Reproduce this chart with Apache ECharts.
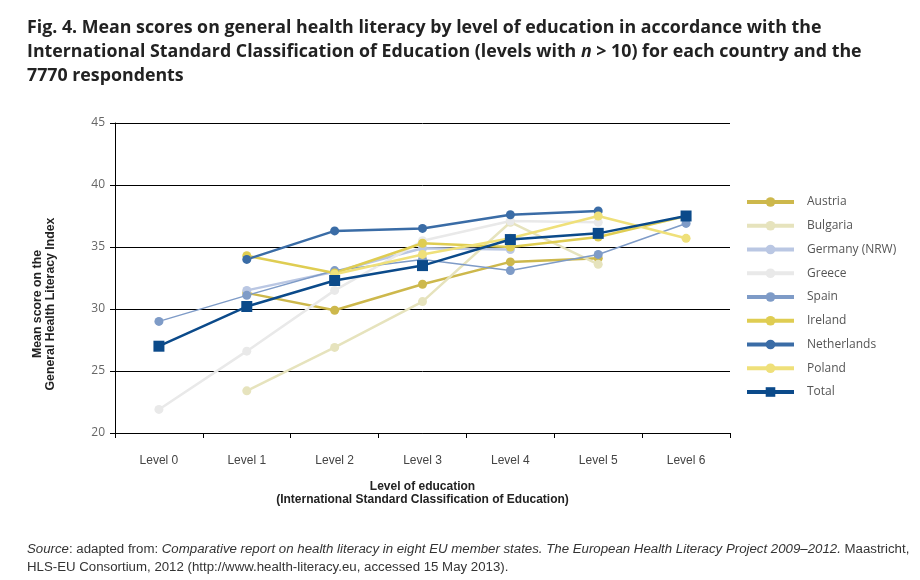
<!DOCTYPE html>
<html>
<head>
<meta charset="utf-8">
<script src="https://cdn.jsdelivr.net/npm/echarts@6/dist/echarts.min.js"></script>
<style>
  html, body { margin: 0; padding: 0; background: #fff; }
  #chart { width: 920px; height: 580px; }
</style>
</head>
<body>
<div id="chart"></div>
<script>
// values (null = level with n <= 10)
const levels = ['Level 0', 'Level 1', 'Level 2', 'Level 3', 'Level 4', 'Level 5', 'Level 6'];
const austria     = [null, 31.3, 29.9, 32.0, 33.8, 34.1, null];
const bulgaria    = [null, 23.4, 26.9, 30.6, 37.0, 33.6, null];
const germany     = [null, 31.5, 33.0, 34.9, 34.8, null, null];
const greece      = [21.9, 26.6, 31.5, 35.5, 37.1, 37.0, null];
const spain       = [29.0, 31.1, 33.1, 34.0, 33.1, 34.4, 36.9];
const ireland     = [null, 34.3, 32.9, 35.3, 35.0, 35.8, 37.5];
const netherlands = [null, 34.0, 36.3, 36.5, 37.6, 37.9, null];
const poland      = [null, null, 32.8, 34.4, 35.7, 37.5, 35.7];
const total       = [27.0, 30.2, 32.3, 33.5, 35.6, 36.1, 37.5];

const narrow = "'Liberation Sans', Arial, sans-serif";
const mainFont = "'Open Sans', 'Noto Sans', sans-serif";

function line(name, data, color, width, symbol, size) {
  return {
    name: name,
    type: 'line',
    data: data,
    symbol: symbol || 'circle',
    symbolSize: size || 9,
    showSymbol: true,
    lineStyle: { color: color, width: width },
    itemStyle: { color: color },
    emphasis: { disabled: true }
  };
}

const chart = echarts.init(document.getElementById('chart'));
chart.setOption({
  animation: false,
  title: [
    {
      left: 22, top: 11,
      text: 'Fig. 4. Mean scores on general health literacy by level of education in accordance with the\n' +
            'International Standard Classification of Education (levels with {i|n} > 10) for each country and the\n' +
            '7770 respondents',
      textStyle: {
        fontFamily: mainFont, fontSize: 17.8, fontWeight: 'bold', color: '#222', lineHeight: 24,
        rich: { i: { fontFamily: mainFont, fontSize: 17.8, fontWeight: 'bold', fontStyle: 'italic', color: '#222', lineHeight: 24 } }
      }
    },
    {
      left: 22, top: 535,
      text: '{i|Source}: adapted from: {i|Comparative report on health literacy in eight EU member states. The European Health Literacy Project 2009\u20132012.} Maastricht,\n' +
            'HLS-EU Consortium, 2012 (http://www.health-literacy.eu, accessed 15 May 2013).',
      textStyle: {
        fontFamily: narrow, fontSize: 13.25, fontWeight: 'normal', color: '#333', lineHeight: 18,
        rich: { i: { fontFamily: narrow, fontSize: 13.25, fontStyle: 'italic', color: '#333', lineHeight: 18 } }
      }
    }
  ],
  graphic: [
    {
      type: 'text',
      x: 44, y: 304,
      rotation: Math.PI / 2,
      style: {
        text: 'Mean score on the\nGeneral Health Literacy Index',
        font: 'bold 12.3px ' + narrow,
        fill: '#222',
        lineHeight: 13,
        align: 'center',
        verticalAlign: 'middle'
      }
    }
  ],
  legend: {
    orient: 'vertical',
    left: 740, top: 191,
    itemWidth: 47, itemHeight: 12, itemGap: 11.75,
    lineStyle: { width: 4 },
    textStyle: { fontFamily: mainFont, fontSize: 12, color: '#555', padding: [0, 0, 0, 8] },
    data: ['Austria', 'Bulgaria', 'Germany (NRW)', 'Greece', 'Spain', 'Ireland', 'Netherlands', 'Poland', 'Total']
  },
  grid: { left: 115, right: 190, top: 123, bottom: 147 },
  xAxis: {
    type: 'category',
    data: levels,
    boundaryGap: true,
    name: 'Level of education\n(International Standard Classification of Education)',
    nameLocation: 'middle',
    nameGap: 47,
    nameTextStyle: { fontFamily: narrow, fontSize: 12, fontWeight: 'bold', color: '#222', lineHeight: 13 },
    axisLine: { lineStyle: { color: '#000', width: 1 } },
    axisTick: { show: true, length: 5, lineStyle: { color: '#000' } },
    axisLabel: { fontFamily: narrow, fontSize: 12, color: '#444', margin: 22 }
  },
  yAxis: {
    type: 'value',
    min: 20, max: 45, interval: 5,
    axisLine: { show: true, lineStyle: { color: '#000', width: 1 } },
    axisTick: { show: true, length: 5, lineStyle: { color: '#000' } },
    axisLabel: { fontFamily: mainFont, fontSize: 12, color: '#666', margin: 10 },
    splitLine: { lineStyle: { color: '#000', width: 1 } }
  },
  series: [
    line('Austria', austria, '#cdb84c', 2.5),
    line('Bulgaria', bulgaria, '#e6e3bd', 2.5),
    line('Germany (NRW)', germany, '#bac7e3', 2.5),
    line('Greece', greece, '#e9e9e9', 2.5),
    line('Spain', spain, '#7e9bc7', 1.5),
    line('Ireland', ireland, '#dfcd52', 2.5),
    line('Netherlands', netherlands, '#3a6ca6', 2.5),
    line('Poland', poland, '#efe07a', 2.5),
    line('Total', total, '#0b4a8a', 2.5, 'rect', 11)
  ]
});
</script>
</body>
</html>
